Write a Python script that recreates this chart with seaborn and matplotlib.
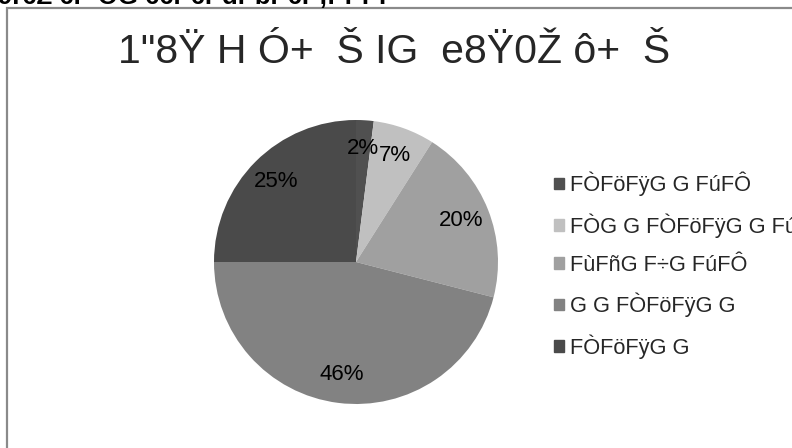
import matplotlib
matplotlib.use("Agg")
import matplotlib.pyplot as plt
from matplotlib.patches import Rectangle
import seaborn as sns

# data
categories = ["FÒFöFÿG G FúFÔ", "FÒG G FÒFöFÿG G FúFÔ", "FùFñG F÷G FúFÔ",
              "G G FÒFöFÿG G", "FÒFöFÿG G"]
shares = [2, 7, 20, 46, 25]
colors = ["#505050", "#c0c0c0", "#a0a0a0", "#828282", "#4a4a4a"]
title = "1\"8Ÿ H Ó+  Š IG  e8Ÿ0Ž ô+  Š"
header = "9r6Z 6r  OG 66r 6r dr br 6r ;r r r r"

sns.set_theme(style="white")
plt.rcParams['font.family'] = ['Liberation Sans', 'DejaVu Sans']

fig = plt.figure(figsize=(7.92, 4.48), dpi=100)
W, H = 792, 448

# clipped header line at the very top, only the lower part of the glyphs shows
fig.text(-2 / W, 1 - 4 / H, header, fontsize=18.5, fontweight="bold",
         ha="left", va="baseline", color="black")

# chart frame running off the right and bottom edges
frame = Rectangle((7 / W, -0.1), 1.2, 1 - 8 / H + 0.1, transform=fig.transFigure,
                  fill=False, edgecolor="#8a8a8a", linewidth=1.6, clip_on=False)
fig.patches.append(frame)

fig.text(394 / W, 1 - 52 / H, title, fontsize=29.5, ha="center", va="center")

# pie: centre (356, 262), radius ~142 px
r = 142
ax = fig.add_axes([(356 - r) / W, (H - 262 - r) / H, 2 * r / W, 2 * r / H])
wedges, texts, autotexts = ax.pie(
    shares, colors=colors, startangle=90, counterclock=False,
    autopct="%1.0f%%", pctdistance=0.8,
    wedgeprops=dict(linewidth=0),
    textprops=dict(fontsize=16, color="black"))
ax.set_xlim(-1, 1)
ax.set_ylim(-1, 1)
ax.set_aspect("equal")
ax.axis("off")

# legend on the right, squares at x~552
handles = [plt.Rectangle((0, 0), 1, 1, color=c) for c in colors]
leg = fig.legend(handles, categories, loc="upper left",
                 bbox_to_anchor=(545 / W, 1 - 163 / H), frameon=False,
                 fontsize=15.7, handlelength=0.45, handleheight=0.45,
                 handletextpad=0.3, labelspacing=0.78, borderaxespad=0)

fig.savefig("out.png", dpi=100)
